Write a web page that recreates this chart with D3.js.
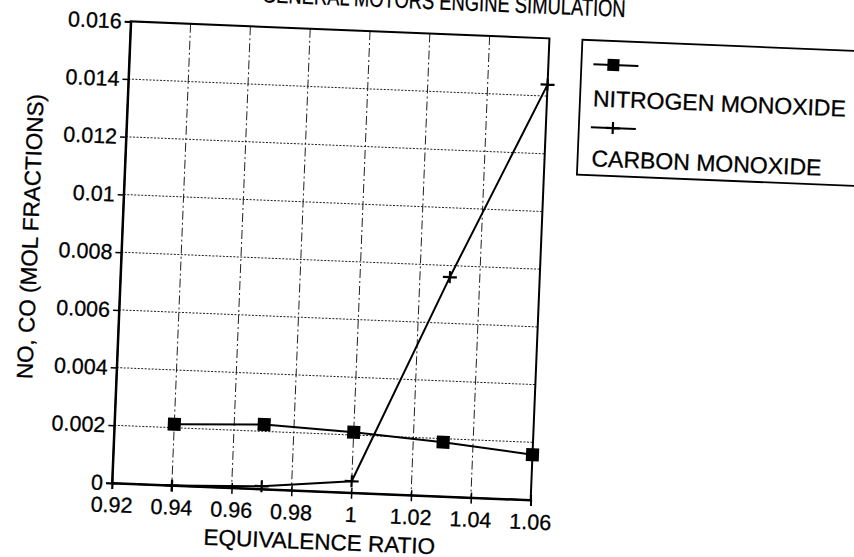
<!DOCTYPE html>
<html><head><meta charset="utf-8">
<script src="https://cdn.jsdelivr.net/npm/d3@7"></script>
<style>
body{margin:0;background:#fff}
svg{display:block;background:#fff}
text{font-family:"Liberation Sans",Arial,Helvetica,sans-serif;fill:#000;stroke:#000;stroke-width:0.3px}
</style>
</head><body>
<svg id="c" width="854" height="557"></svg>
<script>
// ---- data ----
const equivalenceRatio = [0.94, 0.97, 1.00, 1.03, 1.06];
const nitrogenMonoxide = [0.00212, 0.00224, 0.00210, 0.00188, 0.00157];
const carbonMonoxide   = [0.0000, 0.0001, 0.0004, 0.0076, 0.0144];
const xTickValues = [0.92, 0.94, 0.96, 0.98, 1.00, 1.02, 1.04, 1.06];
const xTickLabels = ["0.92", "0.94", "0.96", "0.98", "1", "1.02", "1.04", "1.06"];
const yTickValues = [0, 0.002, 0.004, 0.006, 0.008, 0.010, 0.012, 0.014, 0.016];
const yTickLabels = ["0", "0.002", "0.004", "0.006", "0.008", "0.01", "0.012", "0.014", "0.016"];
const seriesNames = ["NITROGEN MONOXIDE", "CARBON MONOXIDE"];
const titleText = "GENERAL MOTORS ENGINE SIMULATION";
const xTitle = "EQUIVALENCE RATIO";
const yTitle = "NO, CO (MOL FRACTIONS)";

// ---- layout ----
const L = 112, R = 531, T = 21, B = 483;
const tilt = 2.33; // scanned page is slightly rotated

const svg = d3.select("#c");
const g = svg.append("g").attr("transform", `rotate(${tilt},${L},${B})`);

const x = d3.scaleLinear().domain([0.92, 1.06]).range([L, R]);
const y = d3.scaleLinear().domain([0, 0.016]).range([B, T]);

// title (cropped at top in the original)
g.append("text").attr("x", 424).attr("y", -3.5)
  .attr("text-anchor", "middle").attr("font-size", 24)
  .attr("textLength", 364).attr("lengthAdjust", "spacingAndGlyphs")
  .text(titleText);

// gridlines
g.append("g").selectAll("line").data(yTickValues.slice(1, -1)).join("line")
  .attr("x1", L).attr("x2", R).attr("y1", d => y(d)).attr("y2", d => y(d))
  .attr("stroke", "#222").attr("stroke-width", 1).attr("stroke-dasharray", "2,1.5");
g.append("g").selectAll("line").data(xTickValues.slice(1, -1)).join("line")
  .attr("y1", T).attr("y2", B).attr("x1", d => x(d)).attr("x2", d => x(d))
  .attr("stroke", "#222").attr("stroke-width", 1).attr("stroke-dasharray", "9,3,2,3");

// frame
g.append("rect").attr("x", L).attr("y", T).attr("width", R - L).attr("height", B - T)
  .attr("fill", "none").attr("stroke", "#000").attr("stroke-width", 2);

// axes
const yAxis = g.append("g").attr("transform", `translate(${L},0)`)
  .call(d3.axisLeft(y).tickValues(yTickValues).tickFormat((d, i) => yTickLabels[i]).tickSize(6).tickPadding(3));
const xAxis = g.append("g").attr("transform", `translate(0,${B})`)
  .call(d3.axisBottom(x).tickValues(xTickValues).tickFormat((d, i) => xTickLabels[i]).tickSize(6).tickPadding(8));
[yAxis, xAxis].forEach(a => {
  a.attr("font-family", null).attr("font-size", null);
  a.select(".domain").attr("stroke", "#000").attr("stroke-width", 2);
  a.selectAll(".tick line").attr("stroke", "#000").attr("stroke-width", 1.5);
  a.selectAll(".tick text").attr("font-size", 21.5).attr("fill", "#000");
});
xAxis.selectAll(".tick line").attr("y1", -5);

// axis titles
g.append("text").attr("x", (L + R) / 2).attr("y", 541).attr("text-anchor", "middle")
  .attr("font-size", 22.5).text(xTitle);
g.append("text").attr("transform", "translate(28,240) rotate(-90)").attr("text-anchor", "middle")
  .attr("font-size", 22.5).text(yTitle);

// series
const line = d3.line().x(d => x(d[0])).y(d => y(d[1]));
const noPts = equivalenceRatio.map((v, i) => [v, nitrogenMonoxide[i]]);
const coPts = equivalenceRatio.map((v, i) => [v, carbonMonoxide[i]]);
g.append("path").datum(noPts).attr("d", line).attr("fill", "none").attr("stroke", "#000").attr("stroke-width", 2);
g.append("path").datum(coPts).attr("d", line).attr("fill", "none").attr("stroke", "#000").attr("stroke-width", 2);
const sq = 13;
g.append("g").selectAll("rect").data(noPts).join("rect")
  .attr("x", d => x(d[0]) - sq / 2).attr("y", d => y(d[1]) - sq / 2)
  .attr("width", sq).attr("height", sq).attr("fill", "#000");
const cross = "M-7,0H7M0,-6V6";
g.append("g").selectAll("path").data(coPts).join("path")
  .attr("transform", d => `translate(${x(d[0])},${y(d[1])})`)
  .attr("d", cross).attr("stroke", "#000").attr("stroke-width", 2.2).attr("fill", "none");

// legend
const lg = g.append("g");
lg.append("rect").attr("x", 564).attr("y", 21).attr("width", 330).attr("height", 135)
  .attr("fill", "#fff").attr("stroke", "#000").attr("stroke-width", 1.8);
lg.append("line").attr("x1", 576).attr("x2", 621).attr("y1", 45).attr("y2", 45)
  .attr("stroke", "#000").attr("stroke-width", 2);
lg.append("rect").attr("x", 596 - 6).attr("y", 45 - 6).attr("width", 12).attr("height", 12).attr("fill", "#000");
lg.append("text").attr("x", 577).attr("y", 87).attr("font-size", 23).text(seriesNames[0]);
lg.append("line").attr("x1", 576).attr("x2", 621).attr("y1", 108).attr("y2", 108)
  .attr("stroke", "#000").attr("stroke-width", 2);
lg.append("path").attr("transform", "translate(598,108)").attr("d", cross)
  .attr("stroke", "#000").attr("stroke-width", 2.2);
lg.append("text").attr("x", 578).attr("y", 147).attr("font-size", 23).text(seriesNames[1]);
</script>
</body></html>
